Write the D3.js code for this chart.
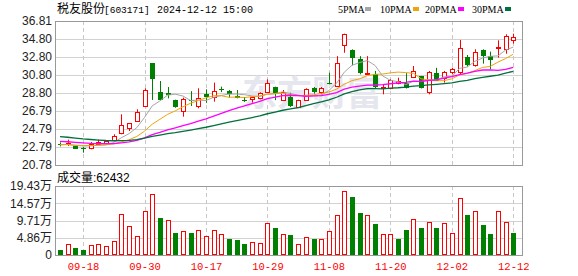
<!DOCTYPE html>
<html>
<head>
<meta charset="utf-8">
<script src="https://cdn.jsdelivr.net/npm/d3@7/dist/d3.min.js"></script>
<style>
body { margin: 0; background: #fff; }
svg text { font-family: "Liberation Sans", Arial, sans-serif; }
</style>
</head>
<body>
<script>
// trading days shown
var dates = ["09-11","09-12","09-13","09-18","09-19","09-20","09-23","09-24","09-25","09-26","09-27","09-30",
  "10-08","10-09","10-10","10-11","10-14","10-15","10-16","10-17","10-18","10-21","10-22","10-23","10-24","10-25","10-28","10-29","10-30","10-31",
  "11-01","11-04","11-05","11-06","11-07","11-08","11-11","11-12","11-13","11-14","11-15","11-18","11-19","11-20","11-21","11-22","11-25","11-26","11-27","11-28","11-29",
  "12-02","12-03","12-04","12-05","12-06","12-09","12-10","12-11","12-12"];

var opens = [23.15,23.05,22.93,22.62,22.71,23.15,23.25,23.53,24.31,24.86,25.68,27.31,
  32.14,28.91,28.85,28.02,26.79,27.98,27.35,28.72,28.39,29.20,29.02,28.46,28.05,28.09,28.20,28.87,29.46,28.05,
  28.35,27.28,27.98,29.32,28.94,29.95,29.58,34.10,33.54,32.54,30.92,30.87,29.35,29.39,29.95,29.95,30.58,30.69,28.94,31.06,30.50,
  31.06,31.06,32.80,31.91,33.55,32.91,33.90,33.73,34.70];
var highs = [23.30,23.60,22.95,22.80,23.34,23.60,23.50,24.20,26.42,25.45,26.98,29.32,
  32.14,30.13,29.46,28.05,28.28,29.00,29.32,29.20,29.95,29.50,29.13,29.13,28.35,28.46,28.87,30.32,29.50,29.13,
  28.83,28.05,29.32,29.46,29.46,31.06,32.90,35.40,33.65,32.90,32.90,31.25,29.76,30.32,30.50,31.00,31.80,30.70,31.25,31.60,31.25,
  31.60,34.70,33.03,33.66,33.66,33.40,34.66,35.33,35.40];
var lows = [22.85,22.90,22.58,22.15,22.53,23.00,23.20,23.40,24.20,24.57,25.60,27.30,
  28.02,27.90,28.20,27.15,26.16,27.35,27.09,27.70,27.83,28.90,28.28,28.20,27.80,27.72,28.09,28.80,28.00,27.90,
  27.24,27.24,27.95,28.72,28.65,29.76,29.50,33.28,31.88,30.87,30.90,29.35,28.65,29.20,29.76,29.30,30.50,29.30,28.65,30.13,29.95,
  30.87,30.87,31.73,31.73,32.06,31.43,32.73,33.17,34.29];
var closes = [23.10,23.20,22.60,22.58,23.12,23.35,23.45,23.97,25.20,25.42,26.68,29.09,
  30.39,27.98,28.65,27.20,28.09,27.85,28.28,28.35,29.02,29.10,28.65,28.28,27.98,28.35,28.80,29.91,28.65,28.94,
  27.35,28.02,29.20,28.83,29.39,29.91,32.10,35.33,32.65,30.95,31.00,29.39,29.45,30.25,30.18,29.39,31.24,29.32,31.13,30.21,31.13,
  31.43,33.77,31.88,33.40,32.91,32.47,33.95,35.15,35.05];
// volume, in 万 shares
var volumes = [1.41,3.00,1.97,1.41,2.82,3.00,2.53,3.85,11.46,8.07,5.35,12.39,
  17.08,10.51,9.86,6.20,6.76,6.20,7.04,5.35,7.04,5.91,4.50,4.22,3.10,3.66,3.38,9.01,7.70,5.91,
  5.63,3.10,5.07,4.50,4.50,6.76,11.26,18.02,16.33,11.83,11.26,8.73,5.82,5.82,4.50,7.04,10.14,7.60,9.20,7.60,8.92,
  6.10,15.96,11.26,12.30,8.45,5.91,12.30,9.29,6.24];
var latestVolume = 62432;
// closes before the first day shown (feed the moving averages)
var earlierCloses = [25.6,25.4,25.3,25.1,25.2,24.9,24.8,24.9,24.5,24.3,
  24.2,24.0,23.9,24.1,23.8,23.7,23.6,23.5,23.6,23.4,
  23.3,23.2,23.1,23.0,22.9,23.0,23.1,22.9,23.0];

var priceTicks = ["36.81","34.80","32.80","30.80","28.80","26.79","24.79","22.79","20.78"];
var volTickValues = [19.43,14.57,9.71,4.86,0];
var volTickLabels = ["19.43万","14.57万","9.71万","4.86万","0"];
var dateTicks = ["09-18","09-30","10-17","10-29","11-08","11-20","12-02","12-12"];
var maPeriods = [5,10,20,30];
var maNames = ["5PMA","10PMA","20PMA","30PMA"];

var maColors = ["#a6a6a6","#f0a30a","#ff00ff","#00703c"];
var red = "#ff0000", green = "#008000";

var width = 578, height = 276;
var left = 55, right = 522;
var top1 = 21, bottom1 = 165, top2 = 186, bottom2 = 255;

function px(v) { return Math.round(v) + 0.5; }

var svg = d3.select("body").append("svg")
    .attr("width", width)
    .attr("height", height);

svg.append("rect").attr("width", width).attr("height", height).attr("fill", "#fff");

var x = d3.scalePoint().domain(dates).range([60, 513.3]);
var y = d3.scaleLinear().domain([20.78, 36.81]).range([bottom1, top1]);
var yv = d3.scaleLinear().domain([0, 19.43]).range([bottom2, top2]);

//grid, price panel
svg.append("g").selectAll("line").data(priceTicks).join("line")
    .attr("x1", left).attr("x2", right)
    .attr("y1", function(d){ return px(y(+d)); })
    .attr("y2", function(d){ return px(y(+d)); })
    .attr("stroke", "#d2d2d2");

//grid, volume panel
svg.append("g").selectAll("line").data(volTickValues).join("line")
    .attr("x1", left).attr("x2", right)
    .attr("y1", function(d){ return px(yv(d)); })
    .attr("y2", function(d){ return px(yv(d)); })
    .attr("stroke", "#d2d2d2");

//dashed verticals
[[top1, bottom1], [top2, bottom2]].forEach(function(r){
    svg.append("g").selectAll("line").data(dateTicks).join("line")
        .attr("x1", function(d){ return px(x(d)); })
        .attr("x2", function(d){ return px(x(d)); })
        .attr("y1", r[0]).attr("y2", r[1])
        .attr("stroke", "#c8c8c8")
        .attr("stroke-dasharray", "4,3");
});

//watermark
svg.append("text")
    .text("东方财富")
    .attr("x", 242).attr("y", 106)
    .style("font-family", "'Noto Sans CJK SC'")
    .style("font-size", "35px")
    .style("font-weight", "bold")
    .attr("fill", "#e6e6ee");

//frames
[[top1, bottom1], [top2, bottom2]].forEach(function(r){
    svg.append("rect")
        .attr("x", left + 0.5).attr("y", r[0] + 0.5)
        .attr("width", right - left).attr("height", r[1] - r[0])
        .attr("fill", "none")
        .attr("stroke", "#999");
});

var idx = d3.range(dates.length);

//candles
var candles = svg.append("g");
candles.selectAll("line").data(idx).join("line")
    .attr("x1", function(i){ return px(x(dates[i])); })
    .attr("x2", function(i){ return px(x(dates[i])); })
    .attr("y1", function(i){ return y(highs[i]); })
    .attr("y2", function(i){ return y(lows[i]); })
    .attr("stroke", function(i){ return closes[i] >= opens[i] ? red : green; });

candles.selectAll("rect").data(idx).join("rect")
    .each(function(i){
        var up = closes[i] >= opens[i];
        var cx = Math.round(x(dates[i]));
        var yt = y(Math.max(opens[i], closes[i]));
        var yb = y(Math.min(opens[i], closes[i]));
        var r = d3.select(this);
        if (up) {
            r.attr("x", cx - 2 + 0.5).attr("width", 4)
             .attr("y", Math.round(yt) + 0.5).attr("height", Math.max(Math.round(yb - yt), 1))
             .attr("fill", "#fff").attr("stroke", red);
        } else {
            r.attr("x", cx - 2).attr("width", 5)
             .attr("y", Math.round(yt)).attr("height", Math.max(Math.round(yb - yt), 1))
             .attr("fill", green);
        }
    });

//moving averages
var allCloses = earlierCloses.concat(closes);
var off = earlierCloses.length;
maPeriods.forEach(function(n, k){
    var values = idx.map(function(i){
        return d3.mean(allCloses.slice(off + i - n + 1, off + i + 1));
    });
    svg.append("path")
        .datum(values)
        .attr("fill", "none")
        .attr("stroke", maColors[k])
        .attr("stroke-width", k < 2 ? 1 : 1.3)
        .attr("d", d3.line()
            .x(function(d, i){ return x(dates[i]); })
            .y(function(d){ return y(d); }));
});

//volume bars
var prevClose = 23.3;
svg.append("g").selectAll("rect").data(idx).join("rect")
    .each(function(i){
        var pc = i === 0 ? prevClose : closes[i - 1];
        var up = closes[i] >= pc;
        var cx = Math.round(x(dates[i]));
        var yt = Math.round(yv(volumes[i]));
        var r = d3.select(this);
        if (up) {
            r.attr("x", cx - 2 + 0.5).attr("width", 4)
             .attr("y", yt + 0.5).attr("height", bottom2 - yt - 1)
             .attr("fill", "#fff").attr("stroke", red);
        } else {
            r.attr("x", cx - 2).attr("width", 5)
             .attr("y", yt).attr("height", bottom2 - yt)
             .attr("fill", green);
        }
    });

//axes
var yAxis = d3.axisLeft(y)
    .tickValues(priceTicks.map(Number))
    .tickFormat(function(d, i){ return priceTicks[i]; })
    .tickSize(0).tickPadding(3);
var ya = svg.append("g").attr("transform", "translate(" + left + ",0)").call(yAxis);
ya.select(".domain").remove();
ya.selectAll("text").attr("fill", "#222").style("font-size", "12px")
    .style("font-family", "'Liberation Sans', Arial, sans-serif");

var vAxis = d3.axisLeft(yv)
    .tickValues(volTickValues)
    .tickFormat(function(d, i){ return volTickLabels[i]; })
    .tickSize(0).tickPadding(3);
var va = svg.append("g").attr("transform", "translate(" + left + ",0)").call(vAxis);
va.select(".domain").remove();
va.selectAll("text").attr("fill", "#222").style("font-size", "12px")
    .style("font-family", "'Liberation Sans', 'Noto Sans CJK SC', sans-serif");

var xAxis = d3.axisBottom(x).tickValues(dateTicks).tickSize(0).tickPadding(8);
var xa = svg.append("g").attr("transform", "translate(0," + bottom2 + ")").call(xAxis);
xa.select(".domain").remove();
xa.selectAll("text").attr("fill", red).style("font-size", "10.5px")
    .style("font-family", "'Liberation Mono', monospace");

//title
var title = svg.append("text").attr("y", 13).attr("fill", "#000");
title.append("tspan").attr("x", 57).text("税友股份")
    .style("font-family", "'Noto Sans CJK SC'").style("font-size", "12px");
title.append("tspan").attr("x", 104).text("[603171]")
    .style("font-family", "'Liberation Mono', monospace").style("font-size", "9.5px");
title.append("tspan").attr("x", 157).text("2024-12-12 15:00")
    .style("font-family", "'Liberation Mono', monospace").style("font-size", "10px");

//legend
var legendX = [338, 380, 425, 472];
maNames.forEach(function(name, k){
    svg.append("text").text(name)
        .attr("x", legendX[k]).attr("y", 13)
        .style("font-family", "'Liberation Serif', serif")
        .style("font-size", "10px")
        .attr("fill", "#000");
    svg.append("rect")
        .attr("x", legendX[k] + (k == 0 ? 27 : 33)).attr("y", 7)
        .attr("width", 6).attr("height", 4)
        .attr("fill", maColors[k]);
});

//volume label
var vl = svg.append("text").attr("x", 57).attr("y", 182).attr("fill", "#000");
vl.append("tspan").text("成交量").style("font-family", "'Noto Sans CJK SC'").style("font-size", "12px");
vl.append("tspan").text(":" + latestVolume).style("font-size", "12px");
</script>
</body>
</html>
